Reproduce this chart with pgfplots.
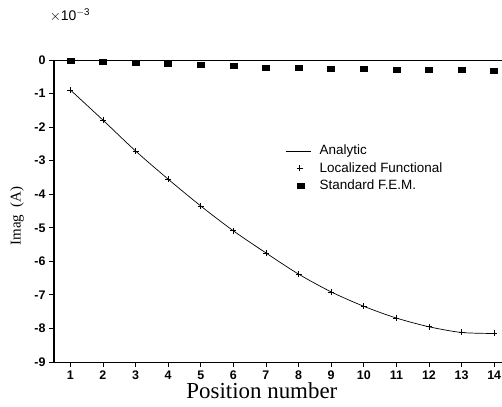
\documentclass[border=0pt]{standalone}
\usepackage{fontspec}
\setmainfont{Liberation Serif}
\setsansfont{Liberation Sans}
\usepackage{pgfplots}
\pgfplotsset{compat=1.18}
\pgfplotstableread{
x an fem
1 -0.89 -0.02
2 -1.79 -0.05
3 -2.71 -0.08
4 -3.55 -0.12
5 -4.35 -0.15
6 -5.09 -0.18
7 -5.75 -0.23
8 -6.38 -0.24
9 -6.91 -0.27
10 -7.34 -0.27
11 -7.69 -0.29
12 -7.95 -0.29
13 -8.12 -0.30
14 -8.15 -0.31
}\datatable
\begin{document}
\begin{tikzpicture}
\useasboundingbox (0,0) rectangle (502bp,407bp);
\begin{axis}[
  at={(54bp,45bp)}, anchor=south west,
  scale only axis, width=448bp, height=302bp,
  xmin=0.5, xmax=14.24, ymin=-9, ymax=0,
  separate axis lines,
  axis x line=box, axis y line=left,
  x axis line style={-, line width=0.9bp},
  y axis line style={-, line width=1.1bp},
  xtick={1,...,14}, xticklabels={1,2,3,4,5,6,7,8,9,10,11,12,13,14},
  ytick={-9,...,0}, yticklabels={-9,-8,-7,-6,-5,-4,-3,-2,-1,0},
  xtick pos=bottom, ytick pos=left,
  tick align=outside, major tick length=5bp,
  tick style={black, line width=0.8bp},
  ticklabel style={font=\fontsize{12.5}{14}\selectfont\sffamily\bfseries},
  clip=false,
  xlabel={Position number},
  xlabel style={at={(axis description cs:0.464,-0.096)}, anchor=center, font=\fontsize{23}{26}\selectfont},
  ylabel={Imag\ \ (A)},
  ylabel style={at={(axis description cs:-0.0826,0.483)}, anchor=center, rotate=0, font=\fontsize{15}{17}\selectfont},
  legend style={draw=none, fill=none, at={(axis description cs:0.516,0.725)}, anchor=north west,
    font=\fontsize{13.5}{15}\selectfont\sffamily, inner sep=0pt, row sep=2bp,
    legend cell align=left},
]
\addplot[black, line width=0.7bp, smooth, no markers,
  legend image code/.code={\path[draw=none,fill=none] (0bp,-3bp) rectangle (32bp,3bp); \draw[black, line width=0.7bp] (0bp,0bp) -- (25bp,0bp);}]
  table[x=x, y=an] {\datatable};
\addlegendentry{Analytic}
\addplot[black, only marks, mark=+, mark size=3bp, mark options={line width=0.7bp},
  legend image code/.code={\path[draw=none,fill=none] (0bp,-3bp) rectangle (32bp,3bp); \draw[black, line width=0.7bp] plot[mark=+, mark size=3bp] coordinates {(14bp,0bp)};}]
  table[x=x, y=an] {\datatable};
\addlegendentry{Localized Functional}
\addplot[black, only marks, mark=square*, mark size=2.5bp, mark options={xscale=1.4},
  legend image code/.code={\path[draw=none,fill=none] (0bp,-3bp) rectangle (32bp,3bp); \draw[black] plot[mark=square*, mark size=2.5bp, mark options={xscale=1.4}] coordinates {(15bp,0bp)};}]
  table[x=x, y=fem] {\datatable};
\addlegendentry{Standard F.E.M.}
\end{axis}
\node[font=\fontsize{14}{16}\selectfont\sffamily] at (70bp,392bp) {$\times$10\textsuperscript{$-$3}};
\end{tikzpicture}
\end{document}
